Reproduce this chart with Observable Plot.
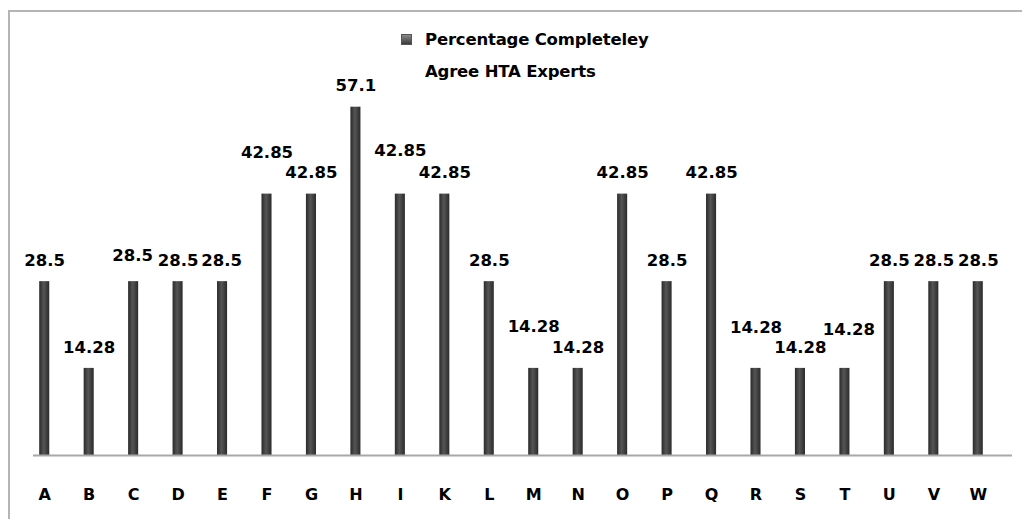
<!DOCTYPE html>
<html>
<head>
<meta charset="utf-8">
<script src="https://cdn.jsdelivr.net/npm/d3@7"></script>
<script src="https://cdn.jsdelivr.net/npm/@observablehq/plot@0.6"></script>
<style>
  html, body { margin: 0; padding: 0; background: #fff; overflow: hidden; }
  #wrap { position: relative; width: 1022px; height: 519px; overflow: hidden; font-family: "DejaVu Sans", sans-serif; }
  #frame { position: absolute; left: 8px; top: 10px; width: 1100px; height: 600px; border-left: 2px solid #b4b4b4; border-top: 2px solid #b4b4b4; box-sizing: border-box; }
  #legend { position: absolute; left: 401px; top: 24px; font-weight: bold; font-size: 16.5px; color: #000; line-height: 32px; letter-spacing: -0.2px; }
  #legend .sw { display: inline-block; width: 9px; height: 9px; background: linear-gradient(#8a8a8a, #3a3a3a); border: 1px solid #555; margin-right: 13px; vertical-align: 0px; }
  #legend .l2 { padding-left: 24px; }
  #chart { position: absolute; left: 0; top: 0; }
</style>
</head>
<body>
<div id="wrap">
  <div id="frame"></div>
  <div id="chart"></div>
  <div id="legend"><div><span class="sw"></span>Percentage Completeley</div><div class="l2">Agree HTA Experts</div></div>
</div>
<script>
const categories = ["A","B","C","D","E","F","G","H","I","K","L","M","N","O","P","Q","R","S","T","U","V","W"];
const values = [28.5,14.28,28.5,28.5,28.5,42.85,42.85,57.1,42.85,42.85,28.5,14.28,14.28,42.85,28.5,42.85,14.28,14.28,14.28,28.5,28.5,28.5];
const labels = ["28.5","14.28","28.5","28.5","28.5","42.85","42.85","57.1","42.85","42.85","28.5","14.28","14.28","42.85","28.5","42.85","14.28","14.28","14.28","28.5","28.5","28.5"];

const data = categories.map((c, i) => ({cat: c, value: values[i], label: labels[i]}));

// label placement (collision avoidance as in the original)
const lift = {C: 5, F: 20, I: 22, M: 21, R: 20, T: 18};
const shift = {T: 4, E: -1, C: -1};

const plot = Plot.plot({
  width: 1022,
  height: 519,
  marginTop: 89,
  marginBottom: 64,
  marginLeft: 22,
  marginRight: 22,
  style: {fontFamily: "DejaVu Sans, sans-serif", background: "transparent"},
  x: {domain: categories, padding: 0, round: false, label: null},
  y: {domain: [0, 60], axis: null},
  marks: [
    Plot.barY(data, {x: "cat", y: "value", fill: "url(#barGrad)", insetLeft: 17.2, insetRight: 17.2}),
    Plot.ruleY([0], {stroke: "#a8a8a8", strokeWidth: 2, insetLeft: 11, insetRight: -12}),
    Plot.axisX({tickSize: 0, tickPadding: 33, fontSize: 16, fontWeight: "bold", fill: "#000", label: null}),
    ...data.map(d => Plot.text([d], {
      x: "cat", y: "value", text: "label",
      dy: -21 - (lift[d.cat] || 0), dx: shift[d.cat] || 0,
      fontSize: 16.5, fontWeight: "bold", fill: "#000"
    }))
  ]
});

const svg = d3.select(plot);
const defs = svg.insert("defs", ":first-child");
const g = defs.append("linearGradient").attr("id", "barGrad").attr("x1", "0").attr("x2", "1").attr("y1", "0").attr("y2", "0");
g.append("stop").attr("offset", "0%").attr("stop-color", "#2a2a2a");
g.append("stop").attr("offset", "45%").attr("stop-color", "#555555");
g.append("stop").attr("offset", "100%").attr("stop-color", "#2a2a2a");

document.getElementById("chart").appendChild(plot);
</script>
</body>
</html>
